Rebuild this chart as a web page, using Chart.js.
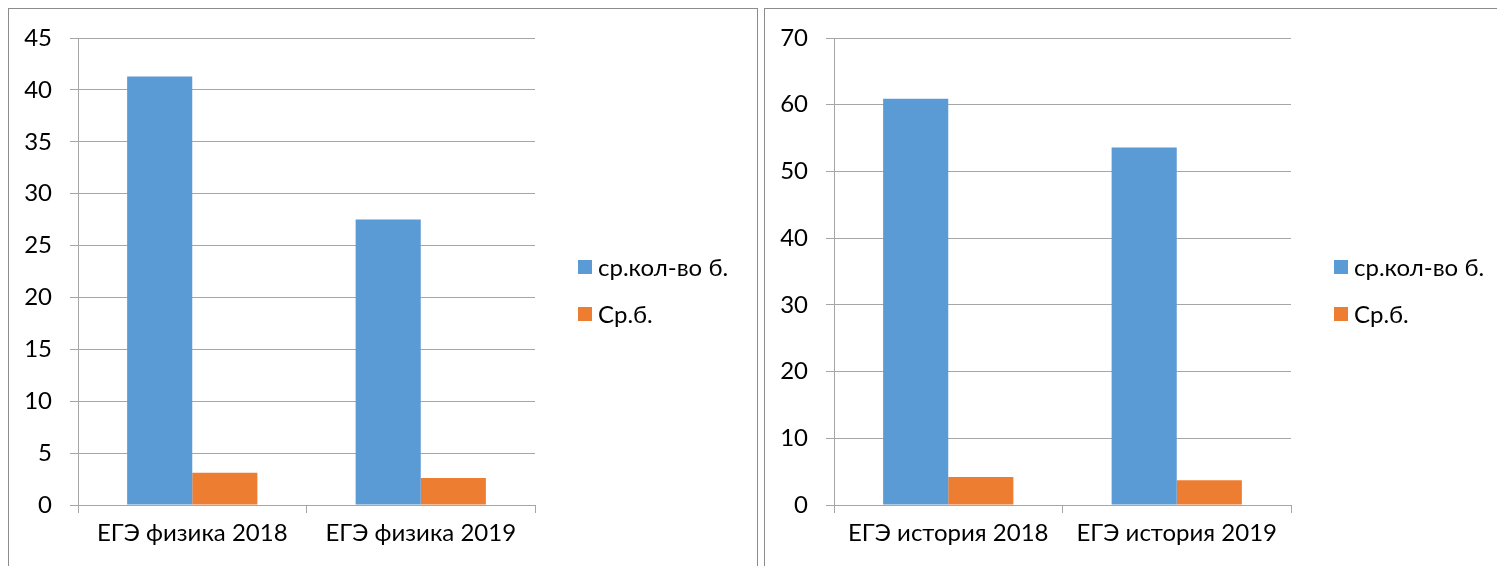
<!DOCTYPE html>
<html lang="ru">
<head>
<meta charset="utf-8">
<title>ЕГЭ физика / история</title>
<script src="https://cdn.jsdelivr.net/npm/chart.js@4.4.1/dist/chart.umd.min.js"></script>
<style>
  html, body {
    margin: 0;
    padding: 0;
    background: #fff;
    overflow: hidden;
  }
  .box {
    position: absolute;
    top: 8px;
    width: 748px;
    height: 572px;
    border: 1px solid #8c8c8c;
    background: #fff;
  }
  #box-phys { left: 8px; }
  #box-hist { left: 764px; }
  canvas { display: block; }
</style>
</head>
<body>
<div class="box" id="box-phys"><canvas id="physChart" width="748" height="572"></canvas></div>
<div class="box" id="box-hist"><canvas id="histChart" width="748" height="572"></canvas></div>

<script>
// Series names (legend)
const seriesNames = ["ср.кол-во б.", "Ср.б."];
const seriesColors = ["#5b9bd5", "#ed7d31"];

// Physics exam
const physLabels = ["ЕГЭ физика 2018", "ЕГЭ физика 2019"];
const physPoints = [41.3, 27.5];
const physGrade = [3.1, 2.6];
const physMax = 45;
const physStep = 5;

// History exam
const histLabels = ["ЕГЭ история 2018", "ЕГЭ история 2019"];
const histPoints = [60.9, 53.6];
const histGrade = [4.2, 3.7];
const histMax = 70;
const histStep = 10;

const FONT = "Lato, 'Noto Sans', sans-serif";
const GRID = "#a6a6a6";
const $ = (id) => document.getElementById(id);

// ======================
// LEGEND (square + text, to the right of the plot)
// ======================
const sideLegend = {
  id: "sideLegend",
  afterDraw(chart) {
    const { ctx, chartArea } = chart;
    const x = chartArea.right + 43;
    ctx.save();
    ctx.font = `24px ${FONT}`;
    ctx.textBaseline = "middle";
    chart.data.datasets.forEach((ds, i) => {
      const y = chartArea.top + 229 + i * 47;
      ctx.fillStyle = ds.backgroundColor;
      ctx.fillRect(x, y - 7, 14, 14);
      ctx.fillStyle = "#000";
      ctx.fillText(ds.label, x + 20, y + 1);
    });
    ctx.restore();
  },
};

// ======================
// CHARTS
// ======================
function makeChart(canvasId, labels, points, grade, max, step) {
  return new Chart($(canvasId).getContext("2d"), {
    type: "bar",
    data: {
      labels: labels,
      datasets: [
        {
          label: seriesNames[0],
          data: points,
          backgroundColor: seriesColors[0],
          categoryPercentage: 0.57,
          barPercentage: 1,
        },
        {
          label: seriesNames[1],
          data: grade,
          backgroundColor: seriesColors[1],
          categoryPercentage: 0.57,
          barPercentage: 1,
        },
      ],
    },
    options: {
      responsive: false,
      animation: false,
      layout: { padding: { top: 29, right: 222, left: 0, bottom: 0 } },
      plugins: {
        legend: { display: false },
        tooltip: { enabled: false },
      },
      scales: {
        x: {
          grid: {
            offset: true,
            drawOnChartArea: false,
            tickLength: 8,
            color: GRID,
          },
          border: { color: GRID },
          ticks: { color: "#000", font: { family: FONT, size: 24 }, padding: 6 },
          afterFit: (scale) => {
            scale.height = 76;
          },
        },
        y: {
          min: 0,
          max: max,
          grid: { color: GRID, tickLength: 8 },
          border: { color: GRID },
          ticks: {
            stepSize: step,
            color: "#000",
            // small lineHeight keeps the top label from pushing the plot down
            font: { family: FONT, size: 24, lineHeight: 0.9 },
            padding: 18,
          },
          afterFit: (scale) => {
            scale.width = 69;
          },
        },
      },
    },
    plugins: [sideLegend],
  });
}

window.addEventListener("load", () => {
  makeChart("physChart", physLabels, physPoints, physGrade, physMax, physStep);
  makeChart("histChart", histLabels, histPoints, histGrade, histMax, histStep);
});
</script>
</body>
</html>
